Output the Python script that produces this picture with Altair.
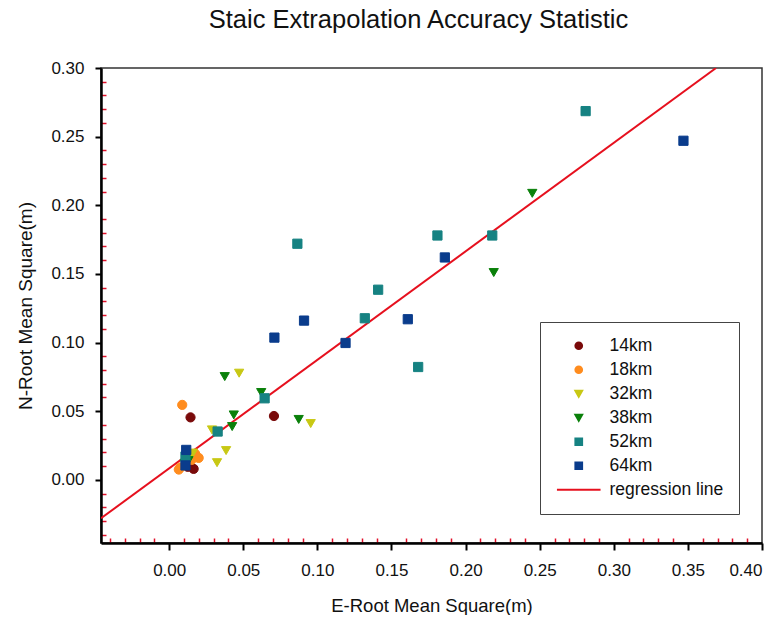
import altair as alt
import pandas as pd

chart_title = "Staic Extrapolation Accuracy Statistic"
x_title = "E-Root Mean Square(m)"
y_title = "N-Root Mean Square(m)"

categories = ["14km", "18km", "32km", "38km", "52km", "64km", "regression line"]
colors = ["#7a0a0a", "#ff8c1e", "#c8c814", "#0a800a", "#168282", "#0a3c8c", "#e6101e"]
shapes = ["circle", "circle", "triangle-down", "triangle-down", "square", "square", "M-6.5,0L6.5,0"]

s14_x = [0.0144, 0.0707, 0.0165, 0.0125]
s14_y = [0.0455, 0.0465, 0.0080, 0.0095]
s18_x = [0.0088, 0.0199, 0.0075, 0.0065, 0.0150, 0.0175]
s18_y = [0.0546, 0.0160, 0.0090, 0.0075, 0.0145, 0.0190]
s32_x = [0.0472, 0.0289, 0.0384, 0.0323, 0.0955, 0.0160, 0.0130]
s32_y = [0.0777, 0.0364, 0.0213, 0.0125, 0.0410, 0.0195, 0.0160]
s38_x = [0.2450, 0.2190, 0.0375, 0.0621, 0.0436, 0.0425, 0.0874, 0.0130, 0.0105]
s38_y = [0.2087, 0.1510, 0.0752, 0.0636, 0.0473, 0.0388, 0.0440, 0.0140, 0.0120]
s52_x = [0.2810, 0.2180, 0.1810, 0.0865, 0.1410, 0.1320, 0.1680, 0.0644, 0.0327, 0.0110]
s52_y = [0.2686, 0.1780, 0.1780, 0.1720, 0.1385, 0.1177, 0.0822, 0.0594, 0.0352, 0.0170]
s64_x = [0.3470, 0.1860, 0.1610, 0.1190, 0.0910, 0.0710, 0.0115, 0.0110]
s64_y = [0.2470, 0.1620, 0.1170, 0.0997, 0.1160, 0.1036, 0.0218, 0.0105]

reg_x = [-0.046, 0.369]
reg_y = [-0.028, 0.300]

x_domain = [-0.046, 0.40]
y_domain = [-0.046, 0.30]
x_major = [0.0, 0.05, 0.10, 0.15, 0.20, 0.25, 0.30, 0.35, 0.40]
y_major = [0.0, 0.05, 0.10, 0.15, 0.20, 0.25, 0.30]
x_minor = [round(i * 0.01, 2) for i in range(-4, 40) if i % 5 != 0]
y_minor = [round(i * 0.01, 2) for i in range(-4, 30) if i % 5 != 0]

rows = []
for name, xs_, ys_ in [("14km", s14_x, s14_y), ("18km", s18_x, s18_y), ("32km", s32_x, s32_y),
                       ("38km", s38_x, s38_y), ("52km", s52_x, s52_y), ("64km", s64_x, s64_y)]:
    for a, b in zip(xs_, ys_):
        rows.append({"x": a, "y": b, "series": name})
pts = pd.DataFrame(rows)
reg = pd.DataFrame({"x": reg_x, "y": reg_y})

W, H = 661, 475
FONT = "Liberation Sans"
xs = alt.Scale(domain=x_domain, nice=False, zero=False)
ys = alt.Scale(domain=y_domain, nice=False, zero=False)
minor_red = "#e0102a"

line = alt.Chart(reg).mark_line(color="#e6101e", strokeWidth=2, clip=True).encode(
    x=alt.X("x:Q", scale=xs, axis=alt.Axis(orient="top", offset=-H, values=x_minor, labels=False,
                                           domain=False, grid=False, tickColor=minor_red,
                                           tickSize=5, tickWidth=1.5, title=None)),
    y=alt.Y("y:Q", scale=ys, axis=alt.Axis(orient="right", offset=-W, values=y_minor, labels=False,
                                           domain=False, grid=False, tickColor=minor_red,
                                           tickSize=5, tickWidth=1.5, title=None)),
)

leg = alt.Legend(title=None, orient="none", legendX=439, legendY=254, padding=15,
                 strokeColor="#444", fillColor="white", symbolSize=45, symbolStrokeWidth=2,
                 labelFontSize=17.5, labelFont=FONT, labelColor="#111", rowPadding=5,
                 symbolOffset=15, labelOffset=22)
cscale = alt.Scale(domain=categories, range=colors)

points = alt.Chart(pts).mark_point(filled=True, size=85, opacity=1, strokeWidth=1).encode(
    x=alt.X("x:Q", scale=xs, axis=alt.Axis(orient="bottom", values=x_major, format=".2f", grid=False,
                                           tickColor="black", tickSize=7, tickWidth=2,
                                           domainColor="black", domainWidth=2.5,
                                           labelFontSize=17, labelFont=FONT, labelColor="#111",
                                           labelPadding=12, title=x_title, titleFontSize=18.5,
                                           titleFont=FONT, titleFontWeight="normal",
                                           titleColor="#111", titlePadding=18)),
    y=alt.Y("y:Q", scale=ys, axis=alt.Axis(orient="left", values=y_major, format=".2f", grid=False,
                                           tickColor="black", tickSize=6, tickWidth=2,
                                           domainColor="black", domainWidth=2.5,
                                           labelFontSize=17, labelFont=FONT, labelColor="#111",
                                           labelPadding=11, title=y_title, titleFontSize=19,
                                           titleFont=FONT, titleFontWeight="normal",
                                           titleColor="#111", titlePadding=15)),
    fill=alt.Fill("series:N", scale=cscale, legend=leg),
    stroke=alt.Stroke("series:N", scale=cscale, legend=leg),
    shape=alt.Shape("series:N", scale=alt.Scale(domain=categories, range=shapes), legend=leg),
)

chart = alt.layer(line, points).resolve_axis(x="independent", y="independent").properties(
    width=W, height=H,
    autosize=alt.AutoSizeParams(type="none"),
    padding={"left": 93, "top": 60, "right": 13, "bottom": 72},
    title=alt.TitleParams(chart_title, fontSize=25.5, font=FONT, fontWeight="normal", color="#111",
                          anchor="middle", baseline="alphabetic", offset=6, dx=-13),
).configure_view(stroke="#333", strokeWidth=1.5)

chart.save("out.html", embed_options={"renderer": "svg", "actions": False})
